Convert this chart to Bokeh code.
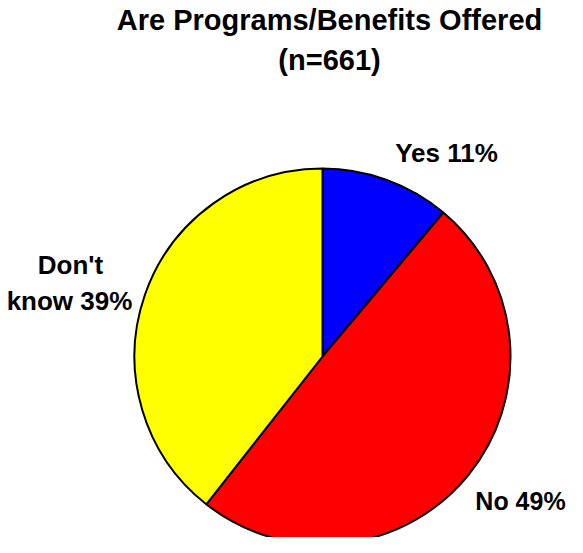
import math
from bokeh.plotting import figure
from bokeh.models import ColumnDataSource, Range1d
from bokeh.core.properties import value
from bokeh.embed import file_html
from bokeh.resources import INLINE

categories = ["Yes", "No", "Don't know"]
percents = [11, 49, 39]
colors = ["#0000FF", "#FF0000", "#FFFF00"]
title_lines = ["Are Programs/Benefits Offered", "(n=661)"]

W, H = 567, 537

def fx(px):
    return px - 8

def fy(py):
    return H + 8 - py

total = sum(percents)
starts, ends = [], []
acc = 0.0
for v in percents:
    a0 = math.pi / 2 - 2 * math.pi * acc / total
    acc += v
    a1 = math.pi / 2 - 2 * math.pi * acc / total
    starts.append(a0)
    ends.append(a1)

cx, cy, R = fx(330), fy(364), 188

src = ColumnDataSource(dict(x=[cx] * 3, y=[cy] * 3, start=starts, end=ends,
                            color=colors, cat=categories))

p = figure(width=W, height=H, output_backend="svg", toolbar_location=None,
           x_range=Range1d(0, W), y_range=Range1d(0, H), min_border=0,
           outline_line_color=None)
p.axis.visible = False
p.grid.visible = False
p.background_fill_color = "white"
p.border_fill_color = "white"

p.wedge(x="x", y="y", radius=R, start_angle="start", end_angle="end",
        direction="clock", fill_color="color", line_color="black",
        line_width=2, source=src)

font = value("Liberation Sans")

# title
p.text(x=[fx(337), fx(337)], y=[fy(27), fy(67)], text=title_lines,
       text_font=font, text_font_style="bold", text_font_size="29px",
       text_align="center", text_baseline="middle", text_color="black")

# slice labels
lab_text = [f"{categories[0]} {percents[0]}%",
            "Don't", f"know {percents[2]}%"]
lab_x = [fx(454), fx(78), fx(77)]
lab_y = [fy(160), fy(272), fy(308)]
p.text(x=lab_x, y=lab_y, text=lab_text, text_font=font,
       text_font_style="bold", text_font_size="26px",
       text_align="center", text_baseline="middle", text_color="black")

p.text(x=[fx(528)], y=[fy(508)], text=[f"{categories[1]} {percents[1]}%"],
       text_font=font, text_font_style="bold", text_font_size="25px",
       text_align="center", text_baseline="middle", text_color="black")

open("out.html", "w").write(file_html(p, INLINE))
